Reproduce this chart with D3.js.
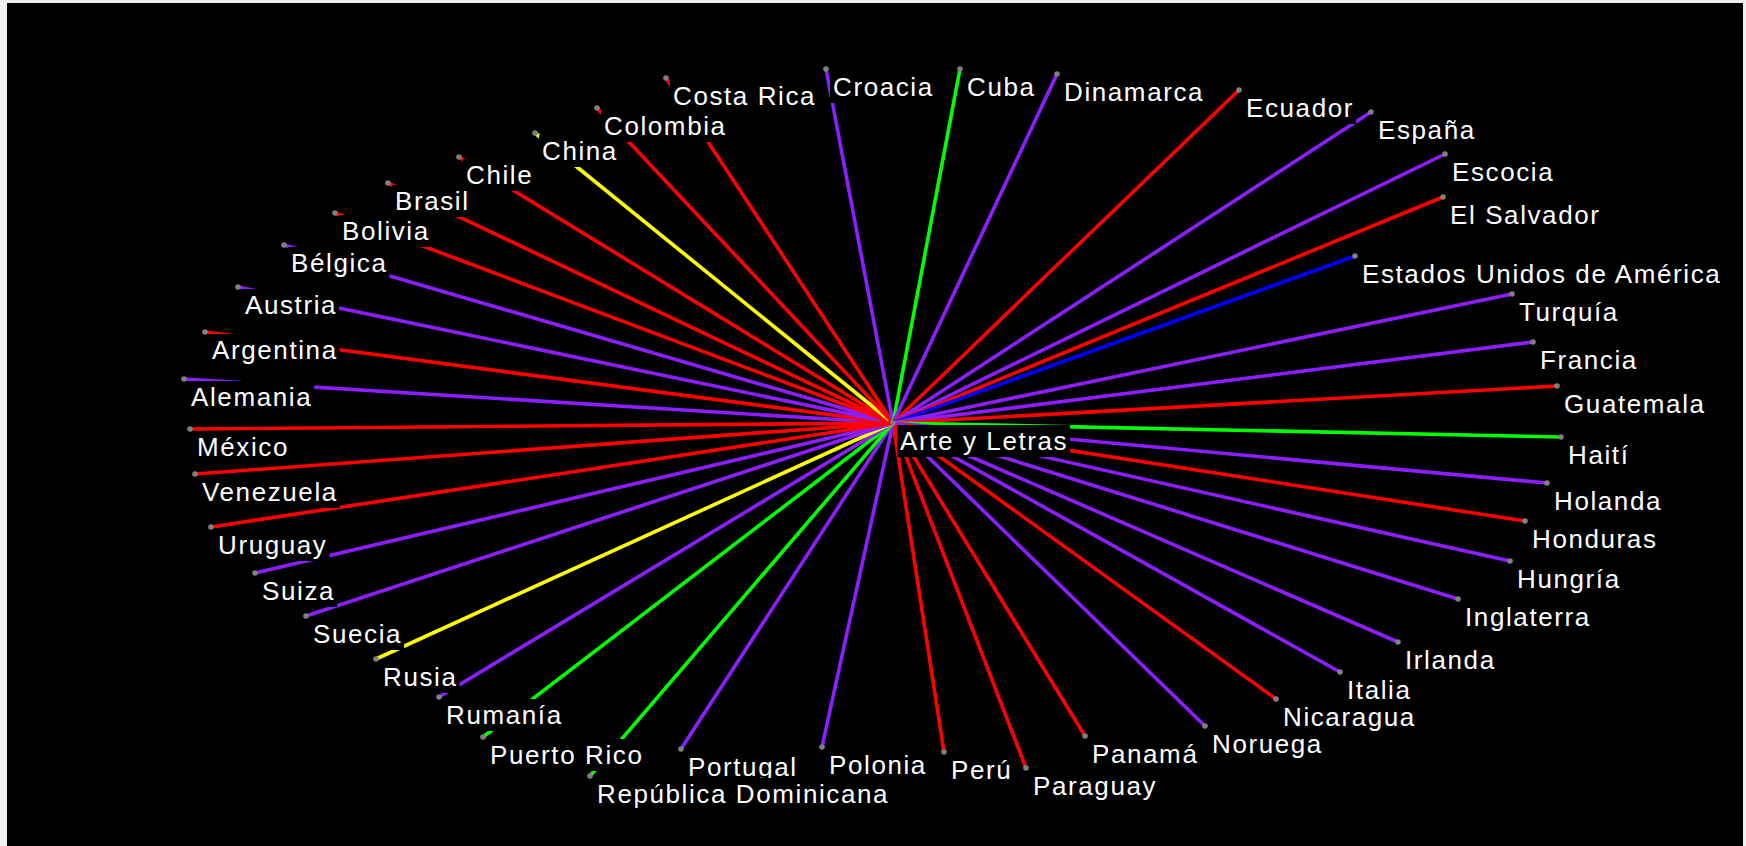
<!DOCTYPE html>
<html>
<head>
<meta charset="utf-8">
<script src="https://cdn.jsdelivr.net/npm/d3@7"></script>
<style>
  html, body { margin: 0; padding: 0; background: #f0f0f0; overflow: hidden; }
  svg { display: block; }
  .label text {
    font-family: "Liberation Sans", Arial, sans-serif;
    font-size: 26px;
    fill: #fff;
    letter-spacing: 1.6px;
  }
</style>
</head>
<body>
<script>
// hub of the network and the countries linked to it
const hub = 'Arte y Letras';

const countries = [
  'Alemania', 'Argentina', 'Austria', 'Bélgica', 'Bolivia', 'Brasil', 'Chile', 'China',
  'Colombia', 'Costa Rica', 'Croacia', 'Cuba', 'Dinamarca', 'Ecuador', 'España', 'Escocia',
  'El Salvador', 'Estados Unidos de América', 'Turquía', 'Francia', 'Guatemala', 'Haití',
  'Holanda', 'Honduras', 'Hungría', 'Inglaterra', 'Irlanda', 'Italia', 'Nicaragua', 'Noruega',
  'Panamá', 'Paraguay', 'Perú', 'Polonia', 'Portugal', 'República Dominicana', 'Puerto Rico',
  'Rumanía', 'Rusia', 'Suecia', 'Suiza', 'Uruguay', 'Venezuela', 'México'
];

// L = Latinoamérica, E = Europa, C = Caribe, A = Asia, N = Norteamérica
const regions = [
  'E', 'L', 'E', 'E', 'L', 'L', 'L', 'A',
  'L', 'L', 'E', 'C', 'E', 'L', 'E', 'E',
  'L', 'N', 'E', 'E', 'L', 'C',
  'E', 'L', 'E', 'E', 'E', 'E', 'L', 'E',
  'L', 'L', 'L', 'E', 'E', 'C', 'C',
  'E', 'A', 'E', 'E', 'L', 'L', 'L'
];

// node layout, offset from the hub (layout units)
const nodeX = [
  -709, -688, -655, -609, -558, -505, -434, -358,
  -296, -227, -67, 67, 164, 346, 478, 552,
  550, 462, 619, 640, 664, 668,
  654, 632, 617, 565, 505, 447, 383, 312,
  192, 133, 51, -71, -212, -303, -410,
  -454, -517, -587, -638, -682, -698, -703
];
const nodeY = [
  -44, -91, -136, -178, -210, -240, -266, -290,
  -315, -345, -354, -354, -349, -333, -311, -269,
  -226, -167, -129, -81, -37, 14,
  60, 98, 138, 176, 219, 249, 276, 303,
  313, 345, 329, 324, 326, 353, 314,
  274, 236, 193, 150, 104, 51, 6
];

const regionKeys = ['L', 'E', 'C', 'A', 'N'];
const regionColors = ['#ff0000', '#8c1eff', '#00ff00', '#ffff00', '#0000ff'];

class SpokeChart {
  constructor(root) {
    this.W = 1746;
    this.H = 846;
    this.svg = root.append('svg')
      .attr('width', this.W)
      .attr('height', this.H);

    // the black drawing surface inside the window frame
    this.svg.append('rect')
      .attr('x', 7)
      .attr('y', 3)
      .attr('width', this.W - 10)
      .attr('height', this.H - 3)
      .attr('fill', '#000');

    this.x = d3.scaleLinear().domain([-893, 853]).range([0, this.W]);
    this.y = d3.scaleLinear().domain([-423, 423]).range([0, this.H]);
    this.color = d3.scaleOrdinal().domain(regionKeys).range(regionColors);
  }

  draw() {
    let nodes = countries.map((name, i) => ({
      name: name,
      region: regions[i],
      x: this.x(nodeX[i]),
      y: this.y(nodeY[i])
    }));
    let center = {name: hub, x: this.x(0), y: this.y(0)};

    this.svg.append('g')
      .classed('links', true)
      .selectAll('line')
      .data(nodes)
      .join('line')
      .attr('x1', center.x)
      .attr('y1', center.y)
      .attr('x2', d => d.x)
      .attr('y2', d => d.y)
      .attr('stroke', d => this.color(d.region))
      .attr('stroke-width', 3.6);

    let all = nodes.concat([center]);

    this.svg.append('g')
      .classed('dots', true)
      .selectAll('circle')
      .data(all)
      .join('circle')
      .attr('cx', d => d.x)
      .attr('cy', d => d.y)
      .attr('r', 2.8)
      .attr('fill', '#808080');

    // labels sit below-right of their node, on a black box that hides the links
    let labels = this.svg.append('g')
      .selectAll('g.label')
      .data(all)
      .join('g')
      .classed('label', true)
      .attr('transform', d => `translate(${d.x}, ${d.y})`);

    let box = labels.append('rect')
      .attr('x', 4)
      .attr('y', 2)
      .attr('height', 32)
      .attr('fill', '#000');

    labels.append('text')
      .attr('x', 7)
      .attr('y', 27)
      .text(d => d.name);

    box.attr('width', function() {
      let t = this.parentNode.querySelector('text');
      return t.getBBox().width + 5;
    });
  }
}

let chart = new SpokeChart(d3.select('body'));
chart.draw();
</script>
</body>
</html>
